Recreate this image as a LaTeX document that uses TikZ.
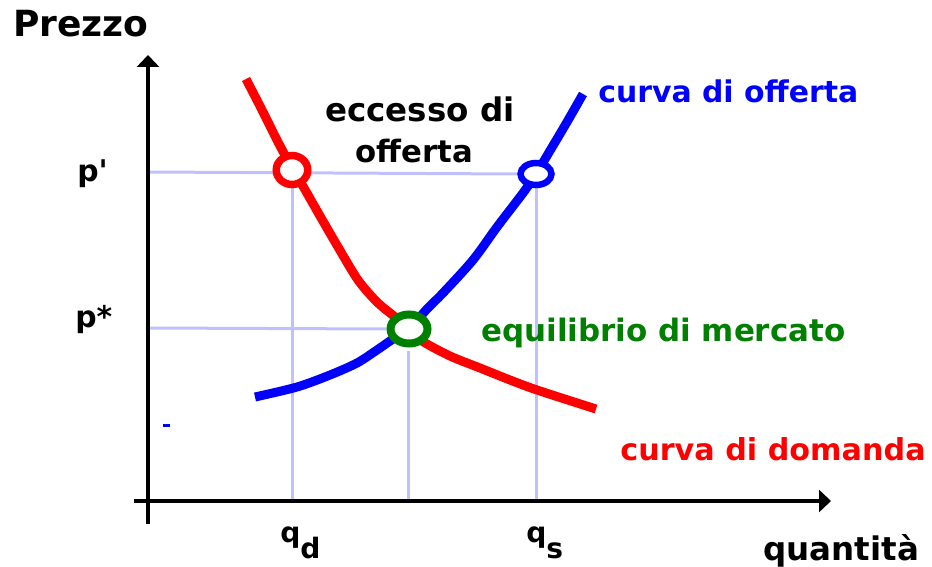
\documentclass[tikz,border=0pt]{standalone}
\usepackage{fontspec}
\setmainfont{DejaVu Sans}
\usetikzlibrary{arrows.meta,shapes.geometric}
\definecolor{guide}{RGB}{192,192,255}
\definecolor{eqgreen}{RGB}{0,128,0}
\begin{document}
\begin{tikzpicture}[x=0.02cm,y=-0.02cm,
  guideline/.style={draw=guide,line width=0.06cm},
  axisline/.style={draw=black,line width=0.07cm},
  curveline/.style={line width=0.18cm},
  marker/.style={ellipse,draw,fill=white,inner sep=0pt},
  lbl/.style={font=\bfseries\fontsize{17}{20}\selectfont,inner sep=0pt,anchor=base west},
  tip/.style={-{Triangle[width=0.44cm,length=0.24cm]}}]
\useasboundingbox (0,0) rectangle (932,567);
% coordinates
\coordinate (ybot) at (148,524);
\coordinate (ytop) at (148,55);
\coordinate (xleft) at (134,501);
\coordinate (xright) at (831,501);
\coordinate (pp) at (148,172);
\coordinate (ps) at (148,328);
\coordinate (qd) at (292,501);
\coordinate (qe) at (408,501);
\coordinate (qs) at (536,501);
% markers (positions)
\coordinate (rcc) at (292,170);
\coordinate (bcc) at (536,174);
\coordinate (gcc) at (409,329);
% guide lines
\draw[guideline] (pp) -- (bcc -| 517,0);
\draw[guideline] (rcc) -- (qd);
\draw[guideline] (bcc) -- (qs);
\draw[guideline] (ps) -- (gcc -| 386,0);
\draw[guideline] (qe |- 0,351) -- (qe);
% axes
\draw[axisline,tip] (ybot) -- (ytop);
\draw[axisline,tip] (xleft) -- (xright);
% curves
\draw[red,curveline] plot[smooth,tension=0.5] coordinates {(246,79) (262,110) (278,142) (292,168) (304,188) (320,216) (338,247) (358,280) (377,302) (395,317) (409,329) (422,341) (450,356) (480,368) (510,380) (537,390) (596,409)};
\draw[blue,curveline] plot[smooth,tension=0.5] coordinates {(255,397) (297,387) (330,375) (357,363) (377,350) (393,339) (409,329) (427,309) (443,293) (473,260) (497,227) (523,193) (536,174) (551,149) (567,122) (583,94)};
% markers
\node[marker,draw=red,line width=0.15cm,minimum width=0.63cm,minimum height=0.58cm] (rc) at (rcc) {};
\node[marker,draw=blue,line width=0.13cm,minimum width=0.62cm,minimum height=0.44cm] (bc) at (bcc) {};
\node[marker,draw=eqgreen,line width=0.16cm,minimum width=0.74cm,minimum height=0.58cm] (gc) at (gcc) {};
% small blue dash
\fill[blue] (163,424) rectangle (170,427);
% labels
\node[lbl,font=\bfseries\fontsize{20.5}{24}\selectfont] (prezzo) at (13,37) {Prezzo};
\node[lbl,font=\bfseries\fontsize{18.5}{22}\selectfont] (ecc1) at (325,122) {eccesso di};
\node[lbl,font=\bfseries\fontsize{17.5}{22}\selectfont] (ecc2) at (355,163) {offerta};
\node[lbl,blue] (offerta) at (598,103) {curva di offerta};
\node[lbl,eqgreen,font=\bfseries\fontsize{17.6}{22}\selectfont] (eq) at (481,341) {equilibrio di mercato};
\node[lbl,red,font=\bfseries\fontsize{17.2}{22}\selectfont] (domanda) at (620,460) {curva di domanda};
\node[lbl,font=\bfseries\fontsize{18.5}{22}\selectfont] (quant) at (763,560) {quantità};
\node[lbl,font=\bfseries\fontsize{17}{22}\selectfont] (pprime) at (77,182) {p\textquotesingle};
\node[lbl,font=\bfseries\fontsize{17}{22}\selectfont] (pstar) at (75,327) {p*};
\node[lbl,font=\bfseries\fontsize{16}{22}\selectfont] (qdl) at (280,542) {q\raisebox{-0.6em}{d}};
\node[lbl,font=\bfseries\fontsize{16}{22}\selectfont] (qsl) at (526,542) {q\raisebox{-0.6em}{s}};
\end{tikzpicture}
\end{document}
